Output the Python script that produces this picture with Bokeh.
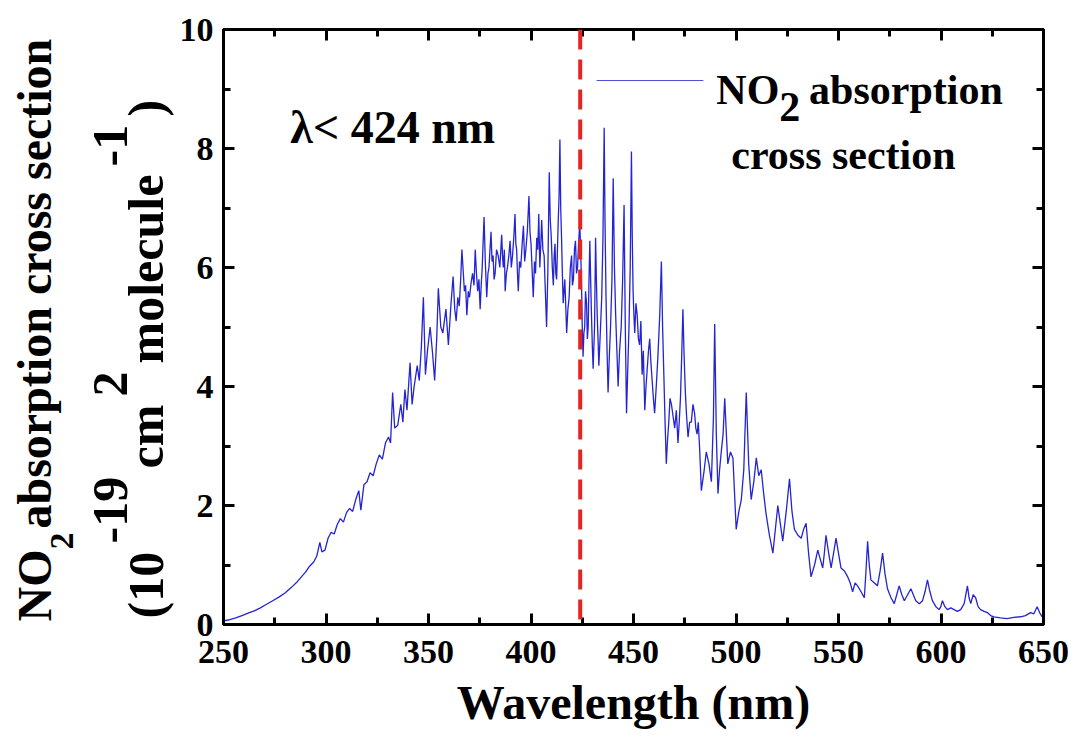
from bokeh.plotting import figure
from bokeh.layouts import row
from bokeh.models import (Range1d, LinearAxis, SingleIntervalTicker, Span, Label,
                          CustomJSTickFormatter)
from bokeh.embed import file_html
from bokeh.resources import INLINE

# ---------------- data ----------------
# (wavelength nm, cross section 1e-19 cm^2 molecule^-1), by spectral region
rise_250_330 = [
    (250, 0.06), (253, 0.08), (256, 0.11), (259, 0.15), (262, 0.19), (265, 0.23),
    (268, 0.28), (271, 0.34), (274, 0.40), (277, 0.46), (280, 0.53), (283, 0.62),
    (286, 0.72), (288, 0.80), (290, 0.88), (292, 0.98), (294, 1.05), (295.5, 1.15),
    (297, 1.38), (298, 1.22), (299.5, 1.25), (301, 1.45), (302.5, 1.55), (304, 1.52),
    (305.5, 1.68), (307, 1.78), (308.5, 1.72), (310, 1.88), (311.5, 1.95), (313, 1.90),
    (314.5, 2.10), (316, 2.25), (317, 1.92), (318.5, 2.35), (320, 2.40), (321.5, 2.55),
    (323, 2.50), (324.5, 2.70), (326, 2.85), (327.5, 2.78), (329, 3.05), (330.5, 3.15),
]
rise_330_360 = [
    (331.5, 3.05), (332.5, 3.90), (333.5, 3.30), (335, 3.35), (336.5, 3.70), (337.5, 3.40),
    (338.5, 3.95), (339.5, 3.60), (341, 4.40), (342, 3.70), (343, 4.00), (344.5, 4.35),
    (345.5, 4.10), (346.5, 4.65), (347.5, 5.50), (348.5, 4.20), (349.5, 4.60), (350.8, 5.00),
    (352, 4.55), (353, 4.10), (354, 4.80), (354.8, 5.65), (356, 5.00), (357, 4.90),
    (358.5, 5.30), (359.7, 4.70),
]
band_360_424 = [
    (361, 5.40), (362, 5.85), (362.8, 5.30), (363.5, 5.10), (364.3, 5.50), (365, 5.35),
    (365.7, 5.80), (366.3, 6.30), (367, 5.90), (367.5, 5.60), (368.1, 5.70), (368.7, 5.20),
    (369.4, 5.60), (370, 5.50), (370.8, 5.75), (371.5, 5.90), (372.2, 5.70), (372.8, 6.30),
    (373.4, 5.90), (374, 5.60), (374.6, 5.80), (375.2, 5.30), (375.7, 5.70), (376.2, 6.00),
    (377.1, 6.85), (377.7, 6.10), (378.4, 5.50), (379, 5.90), (379.5, 6.00), (380, 6.30),
    (380.5, 6.60), (381, 6.10), (381.5, 6.20), (382, 5.80), (382.5, 5.90), (383.2, 6.30),
    (384, 6.20), (384.8, 6.00), (385.7, 6.55), (386.1, 6.20), (386.5, 6.00), (387, 6.30),
    (387.4, 5.60), (388, 5.90), (388.5, 6.00), (389.2, 6.20), (389.8, 6.45), (390.4, 6.00),
    (391, 6.20), (391.6, 6.50), (392.2, 6.90), (392.6, 6.40), (393, 6.30), (393.4, 5.90),
    (393.8, 5.60), (394.4, 6.10), (395, 6.00), (395.7, 6.40), (396.3, 6.70), (396.9, 6.10),
    (397.5, 6.30), (398.2, 6.60), (399, 7.20), (399.5, 6.60), (400, 6.40), (400.5, 6.00),
    (401.1, 5.50), (401.7, 6.10), (402.2, 5.90), (402.8, 6.50), (403.3, 6.30), (403.8, 6.90),
    (404.3, 6.00), (404.8, 6.40), (405.2, 6.80), (405.8, 6.30), (406.4, 6.20), (407, 5.60),
    (407.6, 5.00), (408.2, 5.90), (408.9, 7.60), (409.4, 6.80), (409.9, 6.50), (410.4, 6.00),
    (410.9, 5.70), (411.3, 6.20), (411.7, 6.40), (412.1, 5.90), (412.5, 5.80), (412.9, 6.30),
    (413.3, 6.80), (413.7, 7.20), (414.1, 8.15), (414.5, 7.00), (414.9, 6.50), (415.3, 5.90),
    (415.7, 5.40), (416.1, 5.60), (416.5, 5.80), (417, 5.30), (417.4, 4.90), (418, 5.30),
    (418.6, 5.50), (419.2, 6.00), (419.8, 6.20), (420.2, 5.70), (420.7, 5.80), (421.2, 6.30),
    (421.7, 6.45), (422.2, 5.90), (422.7, 6.00), (423.2, 6.40), (423.8, 6.75),
]
band_424_483 = [
    (424.2, 6.30), (424.6, 5.80), (425, 5.00), (425.4, 4.50), (425.8, 4.90), (426.2, 5.00),
    (426.6, 5.60), (427.1, 5.40), (427.5, 4.80), (427.9, 5.00), (428.3, 5.80), (428.7, 6.45),
    (429.1, 5.80), (429.5, 5.20), (429.9, 4.70), (430.3, 4.30), (430.7, 4.70), (431, 5.00),
    (431.5, 6.50), (431.9, 5.80), (432.3, 5.20), (432.7, 4.80), (433.1, 4.35), (433.8, 4.90),
    (434.5, 5.50), (435.1, 6.50), (435.7, 8.35), (436.1, 6.80), (436.6, 5.50), (437.1, 4.60),
    (437.6, 3.90), (438.2, 4.50), (438.8, 5.00), (439.5, 5.80), (440.1, 7.50), (440.7, 6.00),
    (441.3, 5.20), (441.9, 4.60), (442.5, 4.00), (443.2, 4.60), (444, 5.00), (444.7, 5.80),
    (445.4, 7.05), (445.7, 6.00), (446, 5.00), (446.6, 3.55), (447.2, 4.30), (447.8, 5.00),
    (448.4, 6.00), (449, 7.95), (449.4, 6.50), (449.8, 5.60), (450.2, 5.20), (450.6, 4.90),
    (451.2, 5.40), (451.8, 5.20), (452.4, 4.80), (453, 4.70), (453.6, 5.10), (454.2, 4.20),
    (454.8, 4.60), (455.5, 3.60), (456.1, 4.00), (456.7, 4.30), (457.3, 4.60), (457.9, 4.80),
    (458.5, 4.40), (459.1, 4.10), (459.7, 3.80), (460.3, 3.55), (461.1, 4.00), (461.9, 4.50),
    (462.8, 5.20), (463.6, 6.10), (464.2, 5.00), (464.8, 4.20), (465.4, 3.40), (466, 2.70),
    (466.6, 3.10), (467.2, 3.40), (467.8, 3.80), (468.5, 3.70), (469.3, 3.50), (470.1, 3.30),
    (470.9, 3.60), (471.7, 3.05), (472.3, 3.40), (472.9, 3.80), (473.5, 4.50), (474.1, 5.30),
    (474.7, 4.50), (475.3, 3.90), (475.9, 3.50), (476.6, 3.15), (477.4, 3.40), (478.2, 3.40),
    (479, 3.70), (479.8, 3.55), (480.4, 3.30), (481, 3.20), (481.6, 3.40), (482.2, 3.00),
]
tail_483_650 = [
    (483.1, 2.25), (484.5, 2.60), (485.5, 2.90), (486.8, 2.70), (488, 2.40), (489, 3.50),
    (489.6, 5.05), (490.4, 3.20), (491.2, 2.20), (492, 2.60), (492.8, 2.90), (493.7, 3.20),
    (494.5, 3.80), (495.3, 3.20), (496, 2.70), (497.3, 2.90), (498.5, 2.80), (499.3, 2.20),
    (500.1, 1.60), (501.4, 1.90), (502.6, 2.10), (503.8, 2.60), (505, 3.90), (506.2, 2.70),
    (507.4, 2.10), (508.7, 2.40), (509.9, 2.80), (511.1, 2.50), (512.3, 2.60), (513.5, 2.20),
    (514.7, 1.85), (516.3, 1.50), (518, 1.20), (519.2, 1.60), (520.4, 2.00), (521.6, 1.70),
    (522.8, 1.40), (524.5, 1.90), (526.1, 2.45), (527.3, 1.90), (528.5, 1.60), (530.2, 1.50),
    (531.8, 1.45), (533, 1.60), (534.2, 1.70), (535.4, 1.20), (536.6, 0.80), (538.3, 1.00),
    (539.9, 1.25), (541.1, 1.10), (542.3, 0.95), (543.1, 1.20), (543.9, 1.50), (545.2, 1.20),
    (546.4, 0.95), (547.6, 1.20), (548.8, 1.45), (550, 1.20), (551.2, 0.95), (552.9, 0.90),
    (554.5, 0.80), (555.7, 0.70), (556.9, 0.55), (558.1, 0.70), (559.3, 0.65), (561, 0.55),
    (562.6, 0.45), (563.4, 0.90), (564.2, 1.40), (565, 1.00), (565.8, 0.75), (567.4, 0.70),
    (569, 0.65), (570.3, 0.90), (571.5, 1.20), (572.7, 0.85), (573.9, 0.60), (575.6, 0.45),
    (577.2, 0.35), (578.4, 0.50), (579.6, 0.65), (580.9, 0.50), (582.1, 0.40), (583.7, 0.50),
    (585.3, 0.60), (586.5, 0.50), (587.7, 0.40), (589.4, 0.35), (591, 0.40), (592.2, 0.55),
    (593.4, 0.75), (594.6, 0.55), (595.8, 0.40), (597.5, 0.30), (599.1, 0.25), (599.9, 0.30),
    (600.7, 0.40), (601.9, 0.30), (603.1, 0.25), (604.8, 0.28), (606.4, 0.25), (608, 0.22),
    (609.6, 0.25), (611.3, 0.35), (612.9, 0.65), (613.7, 0.45), (614.5, 0.35), (615.7, 0.50),
    (616.9, 0.45), (618.1, 0.30), (619.3, 0.25), (621, 0.22), (622.6, 0.20), (624.2, 0.15),
    (625.8, 0.13), (629, 0.11), (632.3, 0.10), (635.5, 0.12), (638.8, 0.13), (641.2, 0.15),
    (643.7, 0.20), (645.3, 0.18), (646.9, 0.30), (648.1, 0.20), (649.3, 0.13), (650, 0.15),
]
x_ticks = [250, 300, 350, 400, 450, 500, 550, 600, 650]
y_ticks = [0, 2, 4, 6, 8, 10]
cutoff_nm = 424
cutoff_text = "λ< 424 nm"
x_label = "Wavelength (nm)"

spectrum = rise_250_330 + rise_330_360 + band_360_424 + band_424_483 + tail_483_650
wavelength = [w for w, _ in spectrum]
cross_section = [c for _, c in spectrum]

# ---------------- layout ----------------
W, H = 1080, 738
LW = 176                      # width of the strip holding the y-axis title
FL, FR, FT, FB = 221, 1043, 29, 624   # frame edges in page pixels
X0, X1, Y0, Y1 = x_ticks[0], x_ticks[-1], y_ticks[0], y_ticks[-1]
FONT = "Liberation Serif"
BLUE = "#2424d2"


def dx(sx):
    return X0 + (sx - FL) * (X1 - X0) / (FR - FL)


def dy(sy):
    return Y0 + (FB - sy) * (Y1 - Y0) / (FB - FT)


p = figure(width=W - LW, height=H, x_range=Range1d(X0, X1), y_range=Range1d(Y0, Y1),
           output_backend="svg", toolbar_location=None,
           min_border_left=FL - LW, min_border_right=W - FR,
           min_border_top=FT, min_border_bottom=H - FB,
           x_axis_label=x_label)
p.grid.visible = False
p.outline_line_color = "black"
p.outline_line_width = 3
p.background_fill_color = "white"
p.border_fill_color = "white"

xb = p.below[0]
yl = p.left[0]
xb.ticker = SingleIntervalTicker(interval=50, num_minor_ticks=2)
yl.ticker = SingleIntervalTicker(interval=2, num_minor_ticks=2)

blank = CustomJSTickFormatter(code="return ''")
xt = LinearAxis(ticker=SingleIntervalTicker(interval=50, num_minor_ticks=2), formatter=blank)
yr = LinearAxis(ticker=SingleIntervalTicker(interval=2, num_minor_ticks=2), formatter=blank)
p.add_layout(xt, "above")
p.add_layout(yr, "right")

for ax in (xb, yl, xt, yr):
    ax.axis_line_width = 3
    ax.axis_line_color = "black"
    ax.major_tick_line_width = 3
    ax.minor_tick_line_width = 3
    ax.major_tick_in = 11
    ax.major_tick_out = 0
    ax.minor_tick_in = 7
    ax.minor_tick_out = 0
    ax.major_label_text_font = FONT
    ax.major_label_text_font_style = "bold"
    ax.major_label_text_color = "black"
    ax.major_label_standoff = 0

xb.major_label_text_font_size = "34px"
xb.major_label_standoff = 16
xb.axis_label_text_font = FONT
xb.axis_label_text_font_style = "bold"
xb.axis_label_text_font_size = "48px"
xb.axis_label_text_color = "black"
xb.axis_label_standoff = 10
yl.major_label_text_font_size = "34px"
yl.major_label_standoff = 10

# spectrum
p.line(wavelength, cross_section, line_color=BLUE, line_width=1.3)

# cutoff line
p.add_layout(Span(location=cutoff_nm, dimension="height", line_color="#e3261f",
                  line_width=4, line_dash="20 10"))

# legend (drawn by hand: sample line + text with subscript)
p.line([dx(595), dx(702)], [dy(80), dy(80)], line_color="#5050d8", line_width=1.2)


def lab(fig, text, x, y, size, angle=0.0):
    fig.add_layout(Label(x=x, y=y, text=text, text_font=FONT,
                         text_font_style="bold", text_font_size=f"{size}px",
                         text_color="black", text_align="left",
                         text_baseline="alphabetic", angle=angle))


# label anchors sit about 0.38 em above the glyph baseline
lab(p, "NO", dx(715), dy(89), 42)
lab(p, "2", dx(778), dy(106), 42)
lab(p, "absorption", dx(808), dy(89), 42)
lab(p, "cross section", dx(730), dy(154), 42)
lab(p, cutoff_text, dx(288), dy(127), 46)

# strip at the left with the rotated y-axis title (sub/superscripts);
# its frame is aligned with the main frame, so everything stays inside FT..FB
t = figure(width=LW, height=H, x_range=Range1d(0, LW), y_range=p.y_range,
           output_backend="svg", toolbar_location=None,
           x_axis_location=None, y_axis_location=None,
           min_border_left=0, min_border_right=0,
           min_border_top=FT, min_border_bottom=H - FB)
t.grid.visible = False
t.outline_line_color = None
t.background_fill_color = "white"
t.border_fill_color = "white"

R = 1.5707963267948966
CM, CS, CL1, CSUB = 145, 110, 34, 61   # centre lines (page x) of the text rows
lab(t, "NO", CL1, dy(621), 48, R)
lab(t, "2", CSUB, dy(549), 34, R)
lab(t, "absorption cross section", CL1, dy(528), 48, R)
lab(t, "(10", CM, dy(618), 50, R)
lab(t, "-19", CS, dy(543), 50, R)
lab(t, "cm", CM, dy(468), 50, R)
lab(t, "2", CS, dy(396), 50, R)
lab(t, "molecule", CM, dy(363), 50, R)
lab(t, "-1", CS, dy(166), 50, R)
lab(t, ")", CM, dy(116), 50, R)

open("out.html", "w").write(file_html(row(t, p), INLINE))
